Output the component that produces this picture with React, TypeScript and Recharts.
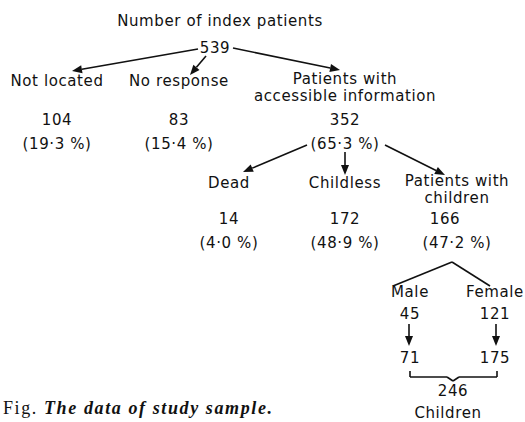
import { ScatterChart, Scatter, XAxis, YAxis, ReferenceLine } from "recharts"

// study sample counts
const totalPatients = 539
const groupLabels = ["Not located", "No response", "Patients with|accessible information"]
const groupCounts = [104, 83, 352]
const groupPct = [19.3, 15.4, 65.3]
const outcomeLabels = ["Dead", "Childless", "Patients with|children"]
const outcomeCounts = [14, 172, 166]
const outcomePct = [4.0, 48.9, 47.2]
const sexLabels = ["Male", "Female"]
const sexPatients = [45, 121]
const sexChildren = [71, 175]
const totalChildren = 246

// layout (data space == pixel space)
const W = 525
const H = 422
const groupX = [57, 179, 345]
const outcomeX = [229, 345, 457]
const sexX = [410, 495]

type Item = { x: number; y: number; text: string }

const fmtPct = (v: number) => `(${v.toFixed(1).replace(".", "·")} %)`

const items: Item[] = []
items.push({ x: 220, y: 21, text: "Number of index patients" })
items.push({ x: 215, y: 48, text: String(totalPatients) })
groupLabels.forEach((l, i) => {
  const lines = l.split("|")
  lines.forEach((t, j) => items.push({ x: groupX[i], y: (lines.length > 1 ? 79 : 81) + j * 17, text: t }))
  items.push({ x: groupX[i], y: 120, text: String(groupCounts[i]) })
  items.push({ x: groupX[i], y: 144, text: fmtPct(groupPct[i]) })
})
outcomeLabels.forEach((l, i) => {
  const lines = l.split("|")
  lines.forEach((t, j) => items.push({ x: outcomeX[i], y: (lines.length > 1 ? 181 : 183) + j * 17, text: t }))
  items.push({ x: outcomeX[i] - (i === 2 ? 12 : 0), y: 219, text: String(outcomeCounts[i]) })
  items.push({ x: outcomeX[i], y: 243, text: fmtPct(outcomePct[i]) })
})
sexLabels.forEach((l, i) => {
  items.push({ x: sexX[i], y: 292, text: l })
  items.push({ x: sexX[i], y: 314, text: String(sexPatients[i]) })
  items.push({ x: sexX[i], y: 358, text: String(sexChildren[i]) })
})
items.push({ x: 453, y: 391, text: String(totalChildren) })
items.push({ x: 448, y: 413, text: "Children" })

type Seg = { a: [number, number]; b: [number, number]; arrow: boolean }
const arrows: Seg[] = [
  { a: [198, 49], b: [72, 71], arrow: true },
  { a: [206, 56], b: [190, 75], arrow: true },
  { a: [233, 48], b: [340, 70], arrow: true },
  { a: [307, 145], b: [243, 172], arrow: true },
  { a: [345, 152], b: [345, 175], arrow: true },
  { a: [385, 145], b: [445, 175], arrow: true },
  { a: [409, 324], b: [409, 346], arrow: true },
  { a: [496, 324], b: [496, 346], arrow: true },
  { a: [452, 262], b: [393, 286], arrow: false },
  { a: [452, 262], b: [490, 286], arrow: false },
  { a: [410, 371], b: [410, 377], arrow: false },
  { a: [410, 377], b: [447, 377], arrow: false },
  { a: [447, 377], b: [453, 381], arrow: false },
  { a: [453, 381], b: [459, 377], arrow: false },
  { a: [459, 377], b: [497, 377], arrow: false },
  { a: [497, 377], b: [497, 371], arrow: false },
]

const caption = [{ x: 3, y: 408 }]

const TextNode = (props: any) => {
  const { cx, cy, payload } = props
  return (
    <text x={cx} y={cy} textAnchor="middle" dominantBaseline="central"
      fontFamily="DejaVu Sans" fontSize={15} letterSpacing={0.6} fill="#111">
      {payload.text}
    </text>
  )
}

const CaptionNode = (props: any) => (
  <text x={props.cx} y={props.cy} dominantBaseline="central" textLength={269} lengthAdjust="spacing"
    fontFamily="Liberation Serif" fontSize={18} fill="#111">
    Fig. <tspan fontStyle="italic" fontWeight="bold">The data of study sample.</tspan>
  </text>
)

const makeSegShape = (arrow: boolean) => (props: any) => {
  const { x1, y1, x2, y2 } = props
  const ang = Math.atan2(y2 - y1, x2 - x1)
  const len = 10
  const half = 4
  const bx = x2 - len * Math.cos(ang)
  const by = y2 - len * Math.sin(ang)
  const px = -Math.sin(ang) * half
  const py = Math.cos(ang) * half
  return (
    <g>
      <line x1={x1} y1={y1} x2={arrow ? bx : x2} y2={arrow ? by : y2} stroke="#111" strokeWidth={1.6} />
      {arrow && (
        <polygon points={`${x2},${y2} ${bx + px},${by + py} ${bx - px},${by - py}`} fill="#111" />
      )}
    </g>
  )
}

export default function App() {
  return (
    <div style={{ position: "fixed", left: 0, top: 0, width: W, height: H, background: "#fff" }}>
      <ScatterChart width={W} height={H} margin={{ top: 0, right: 0, bottom: 0, left: 0 }}>
        <XAxis type="number" dataKey="x" domain={[0, W]} hide />
        <YAxis type="number" dataKey="y" domain={[0, H]} reversed hide />
        {arrows.map((s, i) => (
          <ReferenceLine key={i} segment={[{ x: s.a[0], y: s.a[1] }, { x: s.b[0], y: s.b[1] }]}
            ifOverflow="visible" shape={makeSegShape(s.arrow)} />
        ))}
        <Scatter data={items} shape={TextNode} isAnimationActive={false} />
        <Scatter data={caption} shape={CaptionNode} isAnimationActive={false} />
      </ScatterChart>
    </div>
  )
}
